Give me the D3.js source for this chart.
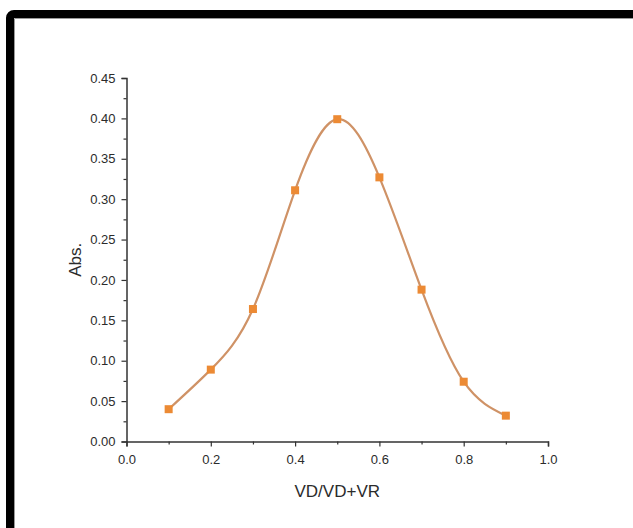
<!DOCTYPE html>
<html>
<head>
<meta charset="utf-8">
<script src="https://cdn.jsdelivr.net/npm/d3@7"></script>
<style>
  body { margin: 0; background: #fff; }
  svg { display: block; }
  text { font-family: "Liberation Sans", Arial, sans-serif; fill: #2b2b2b; }
</style>
</head>
<body>
<svg width="633" height="528"></svg>
<script>
// mole fraction vs absorbance (Job's plot)
const fractions = [0.1, 0.2, 0.3, 0.4, 0.5, 0.6, 0.7, 0.8, 0.9]
const absValues = [0.040, 0.089, 0.164, 0.311, 0.399, 0.327, 0.188, 0.074, 0.032]
const xTicks = [0, 0.2, 0.4, 0.6, 0.8, 1.0]
const xMinor = [0.1, 0.3, 0.5, 0.7, 0.9]
const yTicks = [0, 0.05, 0.10, 0.15, 0.20, 0.25, 0.30, 0.35, 0.40, 0.45]
const yMinor = [0.025, 0.075, 0.125, 0.175, 0.225, 0.275, 0.325, 0.375, 0.425]

const svg = d3.select('svg')

// frame round the picture
svg.append('rect')
  .attr('x', 10).attr('y', 14)
  .attr('width', 700).attr('height', 600)
  .attr('rx', 4)
  .attr('fill', 'none')
  .attr('stroke', '#000')
  .attr('stroke-width', 8)
svg.append('path')
  .attr('d', 'M14.5,600V18.5H633')
  .attr('fill', 'none')
  .attr('stroke', '#9a9a9a')
  .attr('stroke-width', 1)

const margin = {top: 78, left: 126.5}
const width = 421.5
const height = 363.5
const g = svg.append('g').attr('transform', 'translate(' + margin.left + ',' + margin.top + ')')

const x = d3.scaleLinear().domain([0, 1]).range([0, width])
const y = d3.scaleLinear().domain([0, 0.45]).range([height, 0])

const xAxis = g.append('g')
  .attr('transform', 'translate(0,' + height + ')')
  .call(d3.axisBottom(x).tickValues(xTicks).tickFormat(d3.format('.1f')).tickSize(5).tickPadding(8))
xAxis.append('g')
  .call(d3.axisBottom(x).tickValues(xMinor).tickFormat('').tickSize(3))
  .select('.domain').remove()

const yAxis = g.append('g')
  .call(d3.axisLeft(y).tickValues(yTicks).tickFormat(d3.format('.2f')).tickSize(5).tickPadding(6))
yAxis.append('g')
  .call(d3.axisLeft(y).tickValues(yMinor).tickFormat('').tickSize(3))
  .select('.domain').remove()

g.selectAll('.domain').attr('stroke', '#333').attr('stroke-width', 1.5)
g.selectAll('.tick line').attr('stroke', '#333').attr('stroke-width', 1.2)
g.selectAll('.tick text')
  .attr('font-size', 13)
  .attr('font-family', '"Liberation Sans", Arial, sans-serif')
  .attr('fill', '#2b2b2b')

// axis titles
g.append('text')
  .attr('x', width / 2)
  .attr('y', height + 55)
  .attr('text-anchor', 'middle')
  .attr('font-size', 17)
  .text('VD/VD+VR')

g.append('text')
  .attr('transform', 'translate(-46,' + (height / 2) + ') rotate(-90)')
  .attr('text-anchor', 'middle')
  .attr('font-size', 17)
  .text('Abs.')

const pts = fractions.map((f, i) => [f, absValues[i]])

g.append('path')
  .datum(pts)
  .attr('fill', 'none')
  .attr('stroke', '#cf9266')
  .attr('stroke-width', 2.2)
  .attr('d', d3.line().x(d => x(d[0])).y(d => y(d[1])).curve(d3.curveNatural))

g.selectAll('rect.pt')
  .data(pts)
  .enter().append('rect')
  .attr('class', 'pt')
  .attr('x', d => x(d[0]) - 4)
  .attr('y', d => y(d[1]) - 4)
  .attr('width', 8)
  .attr('height', 8)
  .attr('fill', '#ec8a34')
</script>
</body>
</html>
